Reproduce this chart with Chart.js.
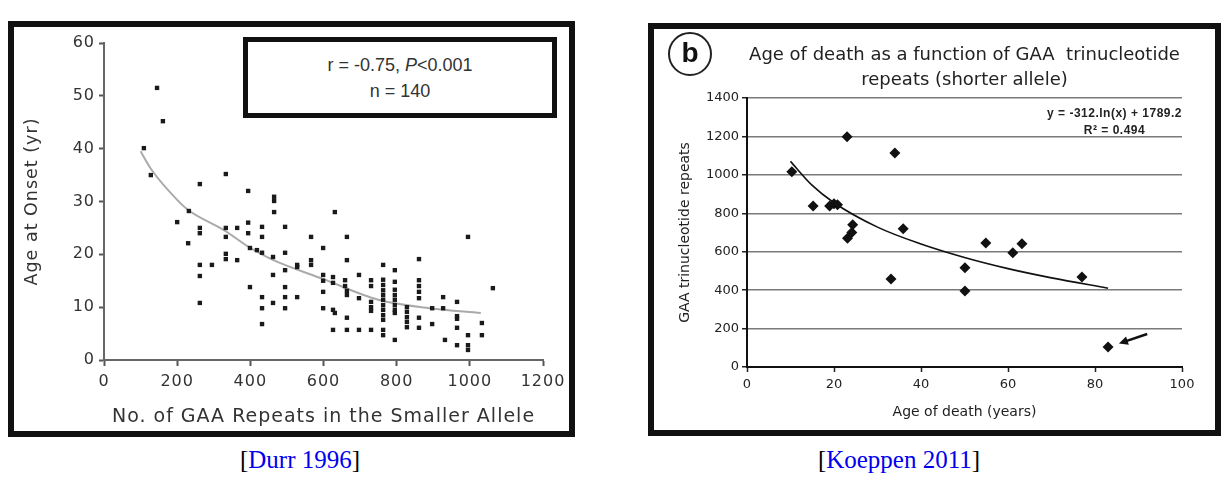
<!DOCTYPE html>
<html>
<head>
<meta charset="utf-8">
<script src="https://cdn.jsdelivr.net/npm/chart.js@4.4.1/dist/chart.umd.min.js"></script>
<style>
  html, body { margin: 0; padding: 0; background: #fff; }
  body { position: relative; width: 1225px; height: 478px; overflow: hidden; }
  canvas { position: absolute; }
  .frame { position: absolute; box-sizing: border-box; border: 6px solid #111; pointer-events: none; }
  .stats {
    position: absolute; left: 243px; top: 37px; width: 314px; height: 81px;
    box-sizing: border-box; border: 5px solid #111; background: #fff;
    padding-top: 10px; text-align: center;
    font: 18px/26px "Liberation Sans", Arial, sans-serif; color: #333;
  }
  .badge {
    position: absolute; left: 668px; top: 32px; width: 44px; height: 44px;
    box-sizing: border-box; border: 2px solid #222; border-radius: 50%;
    text-align: center; font: bold 28px/38px "Liberation Sans", Arial, sans-serif; color: #111;
  }
  .equation {
    position: absolute; right: 43px; top: 105px; text-align: center;
    font: bold 12px/17px "Liberation Sans", Arial, sans-serif; letter-spacing: 0.5px; color: #222;
  }
  .cite {
    position: absolute; top: 445px; width: 300px; text-align: center;
    font: 25px/30px "Liberation Serif", "Times New Roman", serif; color: #000;
  }
  .cite span { color: #0000ee; }
</style>
</head>
<body>
<canvas id="onset" width="590" height="440" style="left:0;top:0"></canvas>
<canvas id="death" width="585" height="440" style="left:640px;top:0"></canvas>

<div class="frame" style="left:8px;top:21px;width:567px;height:416px"></div>
<div class="frame" style="left:648px;top:23px;width:573px;height:413px"></div>

<div class="stats">r = -0.75, <i>P</i>&lt;0.001<br>n = 140</div>
<div class="badge">b</div>
<div class="equation">y = -312.ln(x) + 1789.2<br>R² = 0.494</div>

<div class="cite" style="left:150px">[<span>Durr 1996</span>]</div>
<div class="cite" style="left:749px">[<span>Koeppen 2011</span>]</div>

<script>
// Durr 1996: GAA repeats (smaller allele) vs age at onset
const onsetRepeats = [
  145, 161, 109, 128, 262, 333, 394, 465, 465, 465,
  232, 200, 262, 262, 333, 364, 394, 432, 495, 631,
  566, 664, 995, 230, 262, 262, 295, 262, 333, 333,
  333, 364, 394, 432, 399, 418, 432, 399, 432, 432,
  432, 462, 462, 462, 495, 495, 495, 495, 495, 528,
  528, 599, 566, 566, 664, 599, 599, 626, 626, 659,
  659, 697, 664, 664, 697, 730, 730, 730, 730, 730,
  763, 763, 763, 763, 763, 763, 763, 763, 763, 763,
  795, 795, 795, 795, 795, 795, 795, 795, 828, 828,
  828, 828, 828, 861, 861, 861, 861, 861, 861, 861,
  897, 897, 927, 927, 932, 965, 965, 965, 965, 965,
  995, 995, 995, 1033, 1033, 1063, 626, 626, 664, 664,
  697, 730, 763, 763, 795, 599, 599, 631, 528
];
const onsetAge = [
  51.5, 45.2, 40.1, 35.0, 33.3, 35.2, 32.0, 30.9, 30.1, 28.0,
  28.2, 26.1, 25.0, 24.0, 25.0, 25.0, 26.0, 25.2, 25.2, 28.0,
  23.3, 23.3, 23.3, 22.1, 18.0, 15.9, 18.0, 10.8, 23.3, 20.1,
  19.1, 18.9, 24.0, 23.3, 21.2, 20.8, 20.3, 13.8, 11.9, 9.8,
  6.8, 19.5, 16.1, 10.8, 20.3, 17.0, 13.8, 11.9, 9.8, 17.6,
  11.9, 21.2, 18.9, 18.0, 18.9, 16.1, 15.0, 15.7, 14.6, 15.1,
  14.0, 16.1, 13.1, 12.3, 11.7, 15.1, 14.0, 11.0, 10.0, 9.3,
  18.0, 15.2, 14.2, 13.2, 12.3, 11.4, 10.4, 9.5, 8.5, 7.6,
  17.0, 14.8, 13.3, 12.3, 11.4, 10.4, 9.5, 8.9, 10.0, 9.1,
  8.1, 7.2, 6.2, 19.1, 15.1, 14.0, 12.9, 11.7, 8.0, 6.1,
  9.8, 6.8, 11.9, 9.8, 3.8, 11.0, 8.3, 7.8, 6.1, 2.8,
  4.7, 2.8, 1.9, 7.0, 4.7, 13.6, 9.5, 5.7, 8.0, 5.7,
  5.7, 5.7, 5.7, 4.7, 3.8, 12.9, 9.8, 8.9, 18.0
];
const onsetFitRepeats = [100, 130, 200, 230, 330, 400, 460, 600, 750, 890, 1030];
const onsetFitAge = [39.5, 36.0, 30.3, 28.4, 24.5, 21.2, 19.0, 15.3, 11.4, 9.8, 8.9];
const onsetXTicks = [0, 200, 400, 600, 800, 1000, 1200];
const onsetYTicks = [0, 10, 20, 30, 40, 50, 60];

// Koeppen 2011: age of death vs GAA repeats (shorter allele)
const deathAge = [10.3, 15.2, 19.0, 20.0, 20.8, 23.0, 24.3, 24.1, 23.1, 33.1, 34.0, 35.9, 50.1, 50.1, 54.9, 61.1, 63.2, 77.0, 83.0];
const deathRepeats = [1016, 838, 838, 850, 845, 1198, 740, 700, 670, 458, 1114, 719, 516, 396, 646, 594, 641, 469, 104];
const deathFitAge = [10, 15, 20, 30, 40, 50, 60, 70, 83];
const deathFitRepeats = [1070, 945, 855, 728, 640, 570, 512, 464, 410];
const deathXTicks = [0, 20, 40, 60, 80, 100];
const deathYTicks = [0, 200, 400, 600, 800, 1000, 1200, 1400];

// arrow pointing at the oldest patient, in data units
const arrowTail = { x: 92, y: 172 };
const arrowHead = { x: 85.5, y: 122 };

const zip = (xs, ys) => xs.map((x, i) => ({ x, y: ys[i] }));
const plain = v => String(v);

const onsetFont = (size) => ({ family: '"DejaVu Sans", Arial, sans-serif', size });

// wider lettering for the left panel
const spacedText = {
  id: 'spacedText',
  beforeDraw(chart) { chart.ctx.letterSpacing = '1px'; }
};

new Chart(document.getElementById('onset'), {
  type: 'scatter',
  data: {
    datasets: [{
      data: zip(onsetRepeats, onsetAge),
      pointStyle: 'rect',
      pointRadius: 3.1,
      backgroundColor: '#1a1a1a',
      borderWidth: 0,
      order: 0
    }, {
      data: zip(onsetFitRepeats, onsetFitAge),
      showLine: true,
      pointRadius: 0,
      borderColor: '#aaaaaa',
      borderWidth: 2,
      cubicInterpolationMode: 'monotone',
      order: 1
    }]
  },
  options: {
    responsive: false,
    animation: false,
    events: [],
    layout: { padding: { top: 43, right: 47, bottom: 0, left: 0 } },
    plugins: { legend: { display: false }, tooltip: { enabled: false } },
    scales: {
      x: {
        type: 'linear', min: 0, max: 1200,
        afterFit: s => { s.height = 80; },
        afterBuildTicks: s => { s.ticks = onsetXTicks.map(v => ({ value: v })); },
        ticks: { padding: 6, color: '#333', font: onsetFont(16), callback: plain },
        grid: { drawOnChartArea: false, tickLength: 6, tickColor: '#555', tickWidth: 2 },
        border: { color: '#666', width: 2 },
        title: {
          display: true, text: 'No. of GAA Repeats in the Smaller Allele',
          color: '#333', font: onsetFont(19), padding: { top: 0, bottom: 12 }
        }
      },
      y: {
        type: 'linear', min: 0, max: 60,
        afterFit: s => { s.width = 104; },
        afterBuildTicks: s => { s.ticks = onsetYTicks.map(v => ({ value: v })); },
        ticks: { padding: 4, color: '#333', font: onsetFont(16), callback: plain },
        grid: { drawOnChartArea: false, tickLength: 5, tickColor: '#555', tickWidth: 2 },
        border: { color: '#666', width: 2 },
        title: {
          display: true, text: 'Age at Onset (yr)',
          color: '#333', font: onsetFont(17.5), padding: { top: 22, bottom: 0 }
        }
      }
    }
  },
  plugins: [spacedText]
});

const deathFont = (size) => ({ family: '"DejaVu Sans", Arial, sans-serif', size });

const arrowMark = {
  id: 'arrowMark',
  afterDatasetsDraw(chart) {
    const { ctx, scales: { x, y } } = chart;
    const x0 = x.getPixelForValue(arrowTail.x), y0 = y.getPixelForValue(arrowTail.y);
    const x1 = x.getPixelForValue(arrowHead.x), y1 = y.getPixelForValue(arrowHead.y);
    const ang = Math.atan2(y1 - y0, x1 - x0);
    ctx.save();
    ctx.strokeStyle = '#111';
    ctx.fillStyle = '#111';
    ctx.lineWidth = 2.5;
    ctx.beginPath();
    ctx.moveTo(x0, y0);
    ctx.lineTo(x1 - 6 * Math.cos(ang), y1 - 6 * Math.sin(ang));
    ctx.stroke();
    ctx.beginPath();
    ctx.moveTo(x1, y1);
    ctx.lineTo(x1 - 10 * Math.cos(ang - 0.45), y1 - 10 * Math.sin(ang - 0.45));
    ctx.lineTo(x1 - 10 * Math.cos(ang + 0.45), y1 - 10 * Math.sin(ang + 0.45));
    ctx.closePath();
    ctx.fill();
    ctx.restore();
  }
};

new Chart(document.getElementById('death'), {
  type: 'scatter',
  data: {
    datasets: [{
      data: zip(deathAge, deathRepeats),
      pointStyle: 'rectRot',
      pointRadius: 5.5,
      backgroundColor: '#111',
      borderWidth: 0,
      order: 0
    }, {
      data: zip(deathFitAge, deathFitRepeats),
      showLine: true,
      pointRadius: 0,
      borderColor: '#111',
      borderWidth: 1.6,
      cubicInterpolationMode: 'monotone',
      order: 1
    }]
  },
  options: {
    responsive: false,
    animation: false,
    events: [],
    layout: { padding: { top: 20, right: 43, bottom: 0, left: 0 } },
    plugins: {
      legend: { display: false },
      tooltip: { enabled: false },
      title: {
        display: true,
        fullSize: false,
        text: ['Age of death as a function of GAA  trinucleotide', 'repeats (shorter allele)'],
        color: '#222',
        font: { family: '"DejaVu Sans", Arial, sans-serif', size: 18, weight: 'normal', lineHeight: 25 / 18 },
        padding: { top: 22.5, bottom: 5.5 }
      }
    },
    scales: {
      x: {
        type: 'linear', min: 0, max: 100,
        afterFit: s => { s.height = 73; },
        afterBuildTicks: s => { s.ticks = deathXTicks.map(v => ({ value: v })); },
        ticks: { padding: 5, color: '#222', font: deathFont(13), callback: plain },
        grid: { drawOnChartArea: false, tickLength: 5, tickColor: '#222', tickWidth: 1.5 },
        border: { color: '#111', width: 2 },
        title: {
          display: true, text: 'Age of death (years)',
          color: '#222', font: deathFont(14), padding: { top: 0, bottom: 19.5 }
        }
      },
      y: {
        type: 'linear', min: 0, max: 1400,
        afterFit: s => { s.width = 107; },
        afterBuildTicks: s => { s.ticks = deathYTicks.map(v => ({ value: v })); },
        ticks: { padding: 3, color: '#222', font: deathFont(13), callback: plain },
        grid: { color: '#7a7a7a', lineWidth: 1.5, tickLength: 5, tickColor: '#222', tickWidth: 1.5 },
        border: { color: '#111', width: 2 },
        title: {
          display: true, text: 'GAA trinucleotide repeats',
          color: '#222', font: deathFont(14), padding: { top: 36.5, bottom: 0 }
        }
      }
    }
  },
  plugins: [arrowMark]
});
</script>
</body>
</html>
